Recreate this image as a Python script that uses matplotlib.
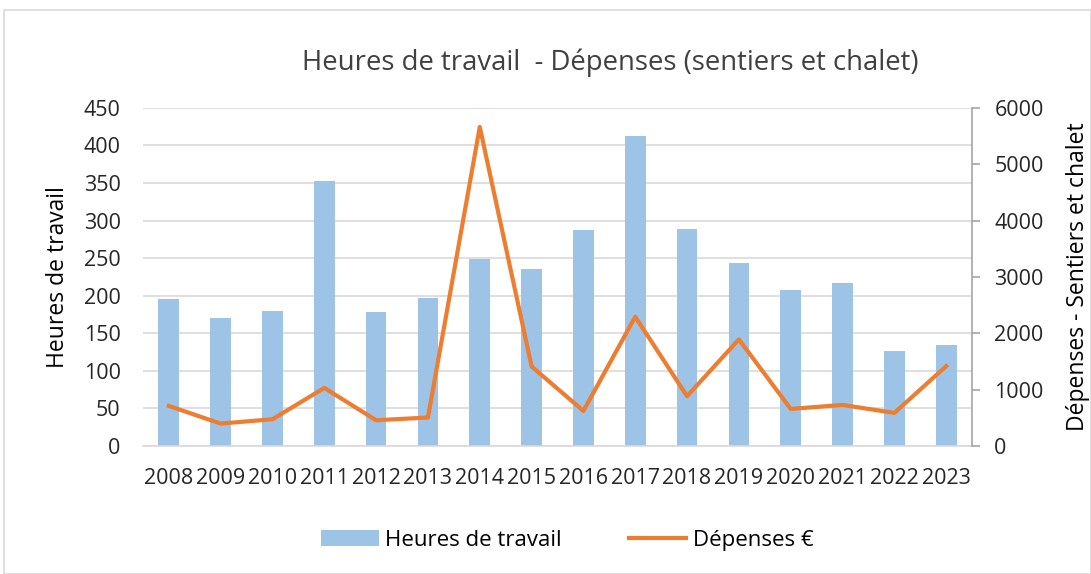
import numpy as np
import matplotlib.pyplot as plt
from matplotlib.patches import Rectangle

years = [str(y) for y in range(2008, 2024)]
heures = [195, 171, 180, 353, 178, 197, 249, 236, 288, 412, 289, 243, 208, 217, 126, 135]
depenses = [711, 398, 475, 1031, 457, 505, 5662, 1412, 622, 2294, 884, 1892, 658, 729, 587, 1417]

plt.rcParams['font.family'] = ['Open Sans', 'DejaVu Sans']

bar_color = '#9dc3e6'
line_color = '#ed7d31'
grid_color = '#d9d9d9'
text_color = '#262626'

fig = plt.figure(figsize=(10.91, 5.74), dpi=100)
fig.patches.append(Rectangle((4 / 1091, 0), 1 - 4 / 1091, 1 - 10 / 574, transform=fig.transFigure,
                             fill=False, edgecolor='#d9d9d9', linewidth=1.2))

ax = fig.add_axes([0.131, 0.223, 0.76, 0.589])
x = np.arange(len(years))
ax.bar(x, heures, width=0.4, color=bar_color, label='Heures de travail', zorder=2)
ax.set_xlim(-0.5, len(years) - 0.5)
ax.set_ylim(0, 450)
ax.set_yticks(np.arange(0, 451, 50))
ax.set_xticks(x)
ax.set_xticklabels(years)
ax.yaxis.grid(True, color=grid_color, linewidth=1.2, zorder=0)
ax.set_axisbelow(True)
for s in ['left', 'top', 'right']:
    ax.spines[s].set_visible(False)
ax.spines['bottom'].set_color(grid_color)
ax.spines['bottom'].set_linewidth(1.2)
ax.tick_params(axis='both', length=0, labelsize=15.5, colors=text_color)
ax.tick_params(axis='y', pad=16)
ax.tick_params(axis='x', pad=16)
ax.set_ylabel('Heures de travail', fontsize=16.5, color='black', labelpad=10)

ax2 = ax.twinx()
ax2.plot(x, depenses, color=line_color, linewidth=3, label='Dépenses €', zorder=3)
ax2.set_ylim(0, 6000)
ax2.set_yticks(np.arange(0, 6001, 1000))
for s in ['left', 'top', 'bottom']:
    ax2.spines[s].set_visible(False)
ax2.spines['right'].set_color('#a6a6a6')
ax2.spines['right'].set_linewidth(1.2)
ax2.tick_params(axis='y', length=6, width=1.2, color='#a6a6a6', labelsize=15.5,
                labelcolor=text_color, pad=10)
ax2.set_ylabel('Dépenses - Sentiers et chalet', fontsize=16.5, color='black', labelpad=16)

fig.text(0.559, 0.89, 'Heures de travail  - Dépenses (sentiers et chalet)', ha='center', va='center',
         fontsize=19.8, color='#404040')

h1, l1 = ax.get_legend_handles_labels()
h2, l2 = ax2.get_legend_handles_labels()
fig.legend(h1 + h2, l1 + l2, loc='center', bbox_to_anchor=(0.52, 0.059), ncol=2, frameon=False,
           fontsize=16, columnspacing=3, handlelength=2.6, handletextpad=0.3)

fig.savefig('out.png', dpi=100)
